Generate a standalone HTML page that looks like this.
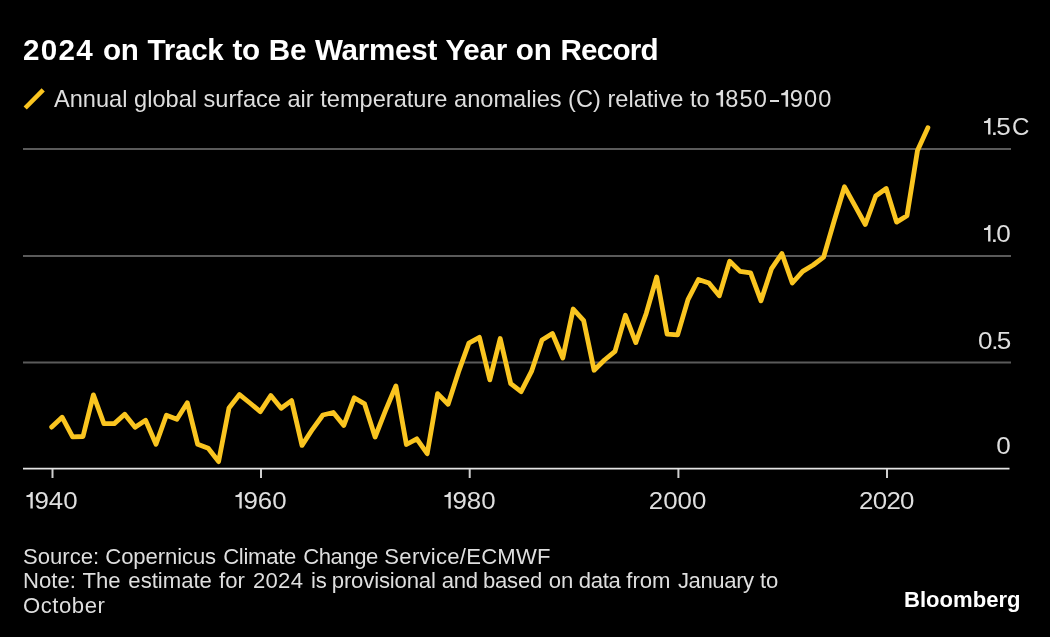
<!DOCTYPE html>
<html><head><meta charset="utf-8"><title>2024 on Track to Be Warmest Year on Record</title>
<style>
html,body{margin:0;padding:0;background:#000;}
body{width:1050px;height:637px;position:relative;overflow:hidden;font-family:"Liberation Sans",sans-serif;}
.t{position:absolute;white-space:nowrap;line-height:1;margin:0;filter:grayscale(1);}
#title{left:23px;top:35px;font-size:29.6px;font-weight:bold;color:#fff;letter-spacing:-0.26px;word-spacing:0.95px;}
#sub{left:54px;top:88.1px;font-size:23.6px;color:#dedede;}
.yl{font-size:23px;color:#dedede;right:39.3px;}
.yl .n{display:inline-block;transform:scaleX(1.135);transform-origin:100% 50%;}
.yl .c{position:absolute;left:100%;top:0;margin-left:0.6px;transform:scaleX(1.05);transform-origin:0 50%;}
.one{position:static;display:inline-block;vertical-align:baseline;margin:0;}
.dash{display:inline-block;width:9.2px;height:1.9px;background:#dedede;vertical-align:5.2px;margin:0 1.9px 0 1.7px;}
.z{font-size:0;letter-spacing:0;}
.dot{margin-left:-1.2px;margin-right:-1.6px;}
.xw{position:absolute;top:489.5px;width:100px;height:24px;text-align:center;}
.xl{position:static;display:inline-block;font-size:23px;color:#dedede;transform:scaleX(1.125);transform-origin:50% 50%;}
.ft{font-size:22.1px;color:#dedede;left:23px;}
#logo{font-size:22px;font-weight:bold;color:#fff;left:903.6px;top:588.5px;transform:scaleX(1.004);transform-origin:0 50%;}
svg{position:absolute;left:0;top:0;}
</style></head><body>
<svg width="1050" height="637" viewBox="0 0 1050 637">
<g stroke="#5a5a5a" stroke-width="2.1">
<line x1="23" y1="149" x2="1011" y2="149"/>
<line x1="23" y1="256" x2="1011" y2="256"/>
<line x1="23" y1="362.5" x2="1011" y2="362.5"/>
</g>
<line x1="23" y1="468.6" x2="1009.5" y2="468.6" stroke="#e4e4e4" stroke-width="1.8"/>
<g stroke="#cfcfcf" stroke-width="2">
<line x1="52.5" y1="469" x2="52.5" y2="478"/>
<line x1="261" y1="469" x2="261" y2="478"/>
<line x1="469.7" y1="469" x2="469.7" y2="478"/>
<line x1="678.4" y1="469" x2="678.4" y2="478"/>
<line x1="887" y1="469" x2="887" y2="478"/>
</g>
<line x1="25.2" y1="108" x2="43.2" y2="89.8" stroke="#fac520" stroke-width="4.5"/>
<polyline fill="none" stroke="#fac520" stroke-width="4.8" stroke-linejoin="round" stroke-linecap="round" points="51.7,427.1 62.1,417.2 72.6,436.8 83.0,436.5 93.4,394.9 103.9,423.6 114.3,423.6 124.7,414.2 135.1,427.3 145.6,420.3 156.0,444.2 166.4,415.2 176.9,419.3 187.3,402.8 197.7,444.3 208.2,448.3 218.6,461.6 229.0,407.9 239.5,394.6 249.9,403.0 260.3,411.6 270.8,395.6 281.2,408.3 291.6,400.6 302.0,445.4 312.5,429.3 322.9,415.0 333.3,412.5 343.8,425.5 354.2,397.8 364.6,403.9 375.1,437.0 385.5,410.7 395.9,385.9 406.4,444.5 416.8,438.8 427.2,453.7 437.6,393.6 448.1,404.3 458.5,371.9 468.9,343.1 479.4,337.3 489.8,379.8 500.2,338.5 510.7,383.6 521.1,391.7 531.5,371.4 542.0,340.0 552.4,333.5 562.8,358.0 573.2,309.0 583.7,320.7 594.1,370.2 604.5,360.0 615.0,351.4 625.4,315.3 635.8,342.6 646.3,313.2 656.7,277.0 667.1,334.1 677.6,334.9 688.0,299.6 698.4,279.5 708.9,283.1 719.3,295.8 729.7,261.3 740.1,271.4 750.6,272.9 761.0,300.8 771.4,268.9 781.9,253.5 792.3,283.0 802.7,271.4 813.2,265.0 823.6,257.1 834.0,221.5 844.5,186.8 854.9,205.6 865.3,224.5 875.7,196.0 886.2,188.5 896.6,222.1 907.0,215.7 917.5,150.5 927.9,127.8"/>
</svg>
<div class="t" id="title"><span style="letter-spacing:1.3px">2024</span> on Track to Be Warmest Year on <span style="letter-spacing:-0.75px">Record</span></div>
<div class="t" id="sub">Annual global surface air temperature anomalies (C) relative to <span style="letter-spacing:1.15px"><span class="z">1</span><svg class="one" viewBox="0 0 8.4 16" width="8.9" height="16.8" preserveAspectRatio="none"><path d="M6.7 0V16H4.3V4.9H0.2V3.1C2.6 3.1 4.3 2.3 4.7 0Z" fill="#dedede"/></svg>850<i class="dash"></i><span class="z">1</span><svg class="one" viewBox="0 0 8.4 16" width="8.9" height="16.8" preserveAspectRatio="none"><path d="M6.7 0V16H4.3V4.9H0.2V3.1C2.6 3.1 4.3 2.3 4.7 0Z" fill="#dedede"/></svg>900</span></div>
<div class="t yl" id="y15" style="top:115.7px;right:38.8px"><span class="n"><span class="z">1</span><svg class="one" viewBox="0 0 8.4 16" width="7.4" height="16.4" preserveAspectRatio="none"><path d="M6.7 0V16H4.3V4.9H0.2V3.1C2.6 3.1 4.3 2.3 4.7 0Z" fill="#dedede"/></svg><span class="dot">.</span>5</span><span class="c">C</span></div>
<div class="t yl" id="y10" style="top:222.7px"><span class="n"><span class="z">1</span><svg class="one" viewBox="0 0 8.4 16" width="7.4" height="16.4" preserveAspectRatio="none"><path d="M6.7 0V16H4.3V4.9H0.2V3.1C2.6 3.1 4.3 2.3 4.7 0Z" fill="#dedede"/></svg><span class="dot">.</span>0</span></div>
<div class="t yl" id="y05" style="top:330px"><span class="n">0<span class="dot">.</span>5</span></div>
<div class="t yl" id="y00" style="top:434.7px"><span class="n">0</span></div>
<div class="xw" style="left:2.0px"><span class="t xl"><span class="z">1</span><svg class="one" viewBox="0 0 8.4 16" width="7.4" height="16.4" preserveAspectRatio="none"><path d="M6.7 0V16H4.3V4.9H0.2V3.1C2.6 3.1 4.3 2.3 4.7 0Z" fill="#dedede"/></svg>940</span></div>
<div class="xw" style="left:211.0px"><span class="t xl"><span class="z">1</span><svg class="one" viewBox="0 0 8.4 16" width="7.4" height="16.4" preserveAspectRatio="none"><path d="M6.7 0V16H4.3V4.9H0.2V3.1C2.6 3.1 4.3 2.3 4.7 0Z" fill="#dedede"/></svg>960</span></div>
<div class="xw" style="left:419.7px"><span class="t xl"><span class="z">1</span><svg class="one" viewBox="0 0 8.4 16" width="7.4" height="16.4" preserveAspectRatio="none"><path d="M6.7 0V16H4.3V4.9H0.2V3.1C2.6 3.1 4.3 2.3 4.7 0Z" fill="#dedede"/></svg>980</span></div>
<div class="xw" style="left:628.0px"><span class="t xl">2000</span></div>
<div class="xw" style="left:836.7px"><span class="t xl" style="letter-spacing:-0.6px">2020</span></div>
<div class="t ft" id="f1" style="top:546.1px">Source: <span style="letter-spacing:-0.1px">Copernicus</span> <span style="margin-left:1.0px;letter-spacing:-0.3px">Climate</span> <span style="margin-left:1.0px;letter-spacing:-0.45px">Change</span> <span style="margin-left:0.4px;letter-spacing:0.25px">Service/ECMWF</span></div>
<div class="t ft" id="f2" style="top:570.3px">Note: <span style="margin-left:0.6px">The</span> <span style="margin-left:1.6px">estimate</span> <span style="margin-left:1.0px">for</span> <span style="margin-left:2.0px;letter-spacing:0.3px">2024</span> <span style="margin-left:1.5px">is</span> <span style="margin-left:-1.3px;letter-spacing:-0.15px">provisional</span> <span style="letter-spacing:-0.3px">and</span> <span style="margin-left:-1.1px;letter-spacing:-0.2px">based</span> <span style="margin-left:0.5px">on</span> <span style="margin-left:-0.7px;letter-spacing:-0.3px">data</span> <span style="margin-left:-0.4px">from</span> <span style="margin-left:1.3px;letter-spacing:-0.4px">January</span> to</div>
<div class="t ft" id="f3" style="top:594.5px;letter-spacing:0.55px">October</div>
<div class="t" id="logo">Bloomberg</div>
</body></html>
